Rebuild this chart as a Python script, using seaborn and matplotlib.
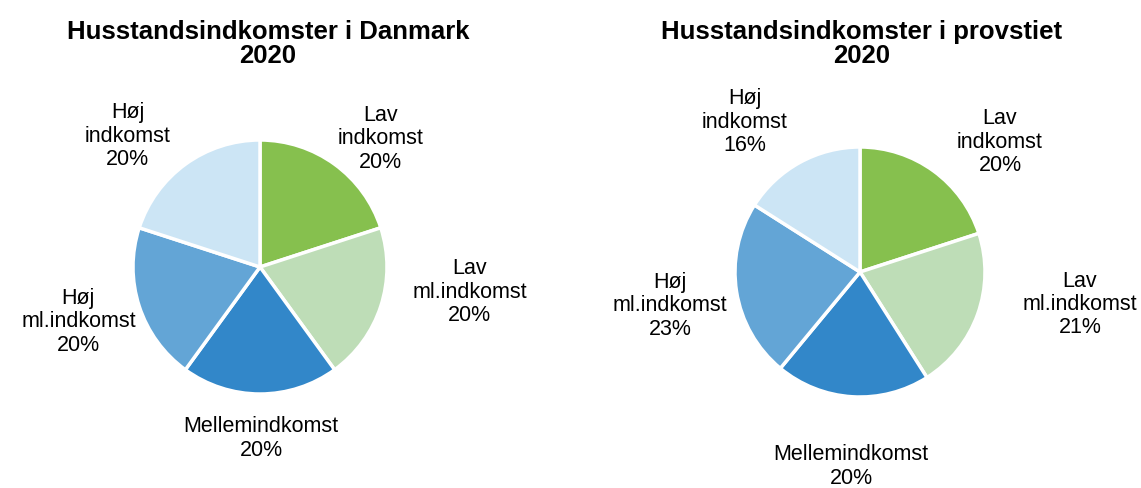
import matplotlib
matplotlib.use("Agg")
import matplotlib.pyplot as plt
import seaborn as sns

sns.set_theme(style="white")
plt.rcParams['font.family'] = ['Liberation Sans', 'DejaVu Sans']

# Data
categories = ["Lav\nindkomst", "Lav\nml.indkomst", "Mellemindkomst", "Høj\nml.indkomst", "Høj\nindkomst"]
danmark_pct = [20, 20, 20, 20, 20]
provsti_pct = [20, 21, 20, 23, 16]
titles = ["Husstandsindkomster i Danmark\n2020", "Husstandsindkomster i provstiet\n2020"]

colors = ["#86C04E", "#BEDDB7", "#3287C9", "#63A5D6", "#CCE5F5"]

# Layout: label positions relative to pie center (in radius units)
label_pos_left = [(0.95, 1.01), (1.65, -0.20), (0.01, -1.35), (-1.43, -0.43), (-1.04, 1.03)]
label_pos_right = [(1.12, 1.04), (1.76, -0.26), (-0.07, -1.555), (-1.52, -0.27), (-0.92, 1.20)]

W, H = 1141, 488
fig = plt.figure(figsize=(W / 100, H / 100), dpi=100)


def draw_pie(cx, cy, r, values, label_pos, title, title_x):
    ax = fig.add_axes([(cx - r) / W, 1 - (cy + r) / H, 2 * r / W, 2 * r / H])
    ax.pie(values, colors=colors, startangle=90, counterclock=False, radius=1,
           wedgeprops=dict(edgecolor="white", linewidth=2.5))
    ax.set_xlim(-1, 1)
    ax.set_ylim(-1, 1)
    ax.set_aspect("auto")
    ax.axis("off")
    for cat, val, (lx, ly) in zip(categories, values, label_pos):
        ax.text(lx, ly, f"{cat}\n{val}%", ha="center", va="center",
                fontsize=15.5, linespacing=1.15, color="black")
    fig.text(title_x / W, 1 - 44 / H, title, ha="center", va="center",
             fontsize=18.5, fontweight="bold", linespacing=0.95, color="black")


draw_pie(260, 267, 127, danmark_pct, label_pos_left, titles[0], 268)
draw_pie(860, 272, 125, provsti_pct, label_pos_right, titles[1], 862)

fig.savefig("out.png", dpi=100, facecolor="white")
